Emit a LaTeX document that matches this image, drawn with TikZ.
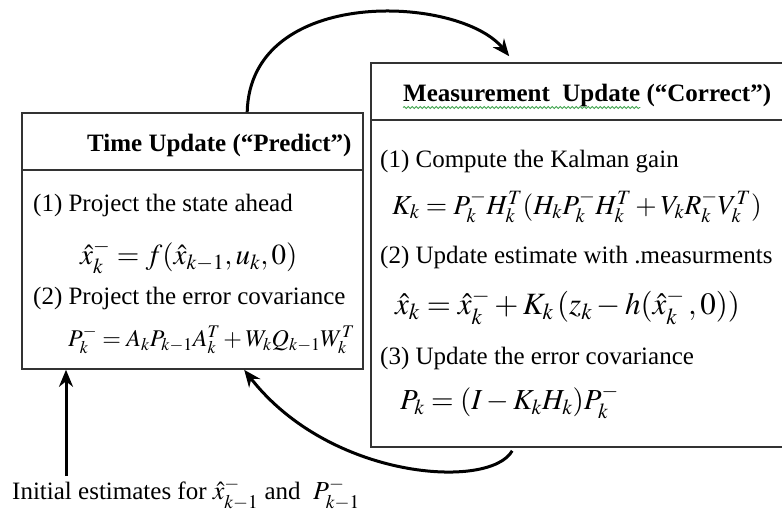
\documentclass[tikz,border=0pt]{standalone}
\usepackage{mathptmx}
\usepackage[no-math]{fontspec}
\setmainfont{Liberation Serif}
\usetikzlibrary{arrows.meta, positioning, decorations.pathmorphing}
\definecolor{boxGrey}{HTML}{333333}
\definecolor{spellGreen}{HTML}{3FA34D}
\newcommand{\fsz}[1]{\fontsize{#1}{1.2\dimexpr#1pt\relax}\selectfont}

\begin{document}
\begin{tikzpicture}[
  x=1pt, y=-1pt,
  box/.style={draw=boxGrey, line width=1.6pt, rectangle, inner sep=0pt},
  rule/.style={draw=boxGrey, line width=1.6pt},
  txt/.style={anchor=west, inner sep=0pt, font=\fsz{25}},
  head/.style={txt, font=\fsz{25}\bfseries},
  flow/.style={line width=3pt, -{Stealth[length=17pt,width=14pt]}}
]
  \useasboundingbox (0,0) rectangle (782,515);

  % Boxes with their header rules
  \node[box, minimum width=341pt, minimum height=256pt] at (192.5,241) (tbox) {};
  \node[box, minimum width=430pt, minimum height=384pt] at (586,255) (mbox) {};
  \draw[rule] ([yshift=-58pt]tbox.north west) -- ([yshift=-58pt]tbox.north east);
  \draw[rule] ([yshift=-58pt]mbox.north west) -- ([yshift=-58pt]mbox.north east);

  % Time update
  \node[head] at (87,145)  (thead) {Time Update (“Predict”)};
  \node[txt]  at (33,205)  (t1)    {(1) Project the state ahead};
  \node[txt, font=\fsz{29}] at (80,257) (t1f) {$\hat{x}_k^- = f(\hat{x}_{k-1},u_k,0)$};
  \node[txt]  at (33,298)  (t2)    {(2) Project the error covariance};
  \node[txt, font=\fsz{24}] at (68,340) (t2f) {$P_k^- = A_kP_{k-1}A_k^T + W_kQ_{k-1}W_k^T$};

  % Measurement update
  \node[head] at (403,95)  (mhead) {Measurement\ \ Update};
  \node[head, right=6pt of mhead] (mcorr) {(“Correct”)};
  \draw[spellGreen, line width=0.8pt, decorate, decoration={snake, amplitude=1pt, segment length=4pt}]
    ([yshift=-1pt]mhead.south west) -- ([yshift=-1pt]mhead.south east);
  \node[txt]  at (380,162) (m1)    {(1) Compute the Kalman gain};
  \node[txt, font=\fsz{27.5}] at (392,207) (m1f) {$K_k = P_k^-H_k^T(H_kP_k^-H_k^T + V_kR_k^-V_k^T)$};
  \node[txt]  at (380,257) (m2)    {(2) Update estimate with .measurments};
  \node[txt, font=\fsz{31}] at (395,307) (m2f) {$\hat{x}_k = \hat{x}_k^- + K_k\,(z_k - h(\hat{x}_k^-\,,0))$};
  \node[txt]  at (380,358) (m3)    {(3) Update the error covariance};
  \node[txt, font=\fsz{29}] at (400,402) (m3f) {$P_k = (I - K_kH_k)P_k^-$};

  % Initial estimates
  \node[txt]  at (12,494)  (init)  {Initial estimates for {\fsz{26}$\hat{x}_{k-1}^-$} and\ \ {\fsz{26}$P_{k-1}^-$}};
  \coordinate (istart) at (66,476);

  % Loop arrows
  \draw[flow] ([xshift=226pt]tbox.north west) .. controls (250,-15) and (460,-5) .. ([xshift=139pt,yshift=6pt]mbox.north west);
  \draw[flow] ([xshift=142pt,yshift=-3pt]mbox.south west) .. controls (490,490) and (330,480) .. ([xshift=223pt]tbox.south west);
  \draw[flow] (istart) -- (istart |- tbox.south);
\end{tikzpicture}
\end{document}
